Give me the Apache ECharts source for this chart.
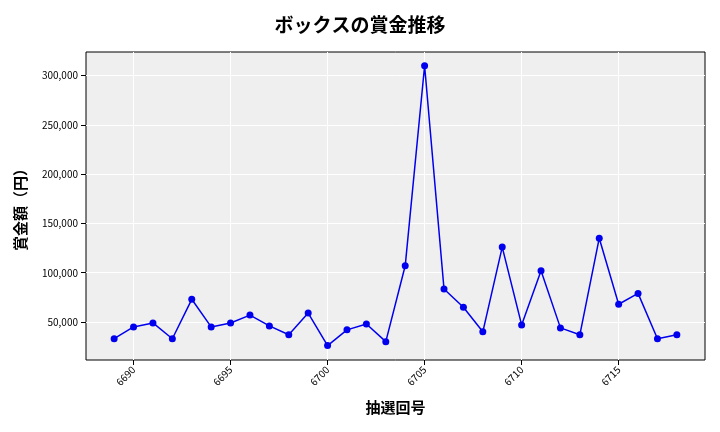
<!DOCTYPE html>
<html><head><meta charset="utf-8">
<script src="https://cdn.jsdelivr.net/npm/echarts@6/dist/echarts.min.js"></script>
<style>html,body{margin:0;background:#fff}#c{width:720px;height:432px}</style>
</head><body><div id="c"></div>
<script>
var draws = [6689,6690,6691,6692,6693,6694,6695,6696,6697,6698,6699,6700,6701,6702,6703,6704,6705,6706,6707,6708,6709,6710,6711,6712,6713,6714,6715,6716,6717,6718];
var prizes = [33000,45000,49000,33000,73000,45000,49000,57000,46000,37000,59000,26000,42000,48000,30000,107000,310000,83500,65000,40000,126000,47000,102000,44000,37000,135000,68000,79000,33000,37000];
var xTicks = [6690,6695,6700,6705,6710,6715];
var yTicks = [50000,100000,150000,200000,250000,300000];

var font = '"Noto Sans CJK JP", sans-serif';
var chart = echarts.init(document.getElementById("c"));
chart.setOption({
  animation: false,
  title: {text: "ボックスの賞金推移", left: "center", top: 10,
    textStyle: {fontFamily: font, fontSize: 19, fontWeight: "bold", color: "#000"}},
  grid: {left: 86, right: 15, top: 52, bottom: 72, backgroundColor: "#efefef", show: true, borderColor: "#000", borderWidth: 1},
  xAxis: {
    type: "value", min: 6687.55, max: 6719.45,
    name: "抽選回号", nameLocation: "middle", nameGap: 40,
    nameTextStyle: {fontFamily: font, fontSize: 15, fontWeight: "bold", color: "#000"},
    axisLine: {show: false},
    axisTick: {show: true, customValues: xTicks, lineStyle: {color: "#000"}},
    axisLabel: {customValues: xTicks, rotate: 45, fontSize: 10, color: "#000", fontFamily: font,
      formatter: function (v) { return String(v); }},
    splitLine: {show: true, lineStyle: {color: "#fff", width: 1}}
  },
  yAxis: {
    type: "value", min: 11400, max: 324000,
    name: "賞金額（円）", nameLocation: "middle", nameGap: 58,
    nameTextStyle: {fontFamily: font, fontSize: 15, fontWeight: "bold", color: "#000"},
    axisLine: {show: false},
    axisTick: {show: true, customValues: yTicks, lineStyle: {color: "#000"}},
    axisLabel: {customValues: yTicks, fontSize: 10, color: "#000", fontFamily: font,
      formatter: function (v) { return v.toLocaleString("en-US"); }},
    splitLine: {show: true, lineStyle: {color: "#fff", width: 1}}
  },
  series: [{
    type: "line",
    data: draws.map(function (d, i) { return [d, prizes[i]]; }),
    symbol: "circle", symbolSize: 7,
    lineStyle: {color: "#0000ee", width: 1.5},
    itemStyle: {color: "#0000ee"}
  }]
});
</script></body></html>
